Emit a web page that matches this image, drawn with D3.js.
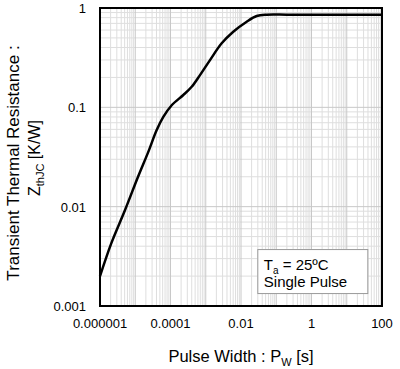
<!DOCTYPE html>
<html>
<head>
<meta charset="utf-8">
<script src="https://cdn.jsdelivr.net/npm/d3@7"></script>
<style>
  body { margin: 0; background: #fff; }
  svg { display: block; font-family: "Liberation Sans", Arial, sans-serif; }
</style>
</head>
<body>
<svg id="chart" width="400" height="369"></svg>
<script>
// pulse width [s] and Zth(j-c) [K/W]
const pulseWidth = [1e-6, 2.1e-6, 5.1e-6, 1.2e-5, 2.3e-5, 4.06e-5, 6.25e-5, 1.08e-4, 2.31e-4, 3.99e-4, 6.87e-4, 1.32e-3, 2.83e-3, 6.03e-3, 1.45e-2, 2.79e-2, 5.37e-2, 0.2, 1, 10, 100];
const zth = [0.002, 0.0043, 0.0092, 0.020, 0.035, 0.059, 0.080, 0.105, 0.133, 0.161, 0.211, 0.299, 0.441, 0.577, 0.728, 0.830, 0.857, 0.857, 0.857, 0.857, 0.857];

const xTicks = [1e-6, 1e-4, 1e-2, 1, 100];
const xTickLabels = ["0.000001", "0.0001", "0.01", "1", "100"];
const yTicks = [0.001, 0.01, 0.1, 1];
const yTickLabels = ["0.001", "0.01", "0.1", "1"];

const margin = { top: 8, right: 18, bottom: 63, left: 100 };
const width = 400 - margin.left - margin.right;
const height = 369 - margin.top - margin.bottom;

const svg = d3.select("#chart");
const g = svg.append("g").attr("transform", `translate(${margin.left},${margin.top})`);

const x = d3.scaleLog().domain([1e-6, 100]).range([0, width]);
const y = d3.scaleLog().domain([0.001, 1]).range([height, 0]);

// minor grid: 2..9 of every decade
let xMinor = [], yMinor = [];
for (let e = -6; e < 2; e++) for (let m = 2; m <= 9; m++) xMinor.push(m * Math.pow(10, e));
for (let e = -3; e < 0; e++) for (let m = 2; m <= 9; m++) yMinor.push(m * Math.pow(10, e));
let xMajor = d3.range(-6, 3).map(e => Math.pow(10, e));
let yMajor = d3.range(-3, 1).map(e => Math.pow(10, e));

g.append("g").selectAll("line").data(xMinor).join("line")
    .attr("x1", d => x(d)).attr("x2", d => x(d))
    .attr("y1", 0).attr("y2", height)
    .attr("stroke", "#dedede").attr("stroke-width", 1);
g.append("g").selectAll("line").data(yMinor).join("line")
    .attr("y1", d => y(d)).attr("y2", d => y(d))
    .attr("x1", 0).attr("x2", width)
    .attr("stroke", "#dedede").attr("stroke-width", 1);
g.append("g").selectAll("line").data(xMajor).join("line")
    .attr("x1", d => x(d)).attr("x2", d => x(d))
    .attr("y1", 0).attr("y2", height)
    .attr("stroke", "#c8c8c8").attr("stroke-width", 1);
g.append("g").selectAll("line").data(yMajor).join("line")
    .attr("y1", d => y(d)).attr("y2", d => y(d))
    .attr("x1", 0).attr("x2", width)
    .attr("stroke", "#c8c8c8").attr("stroke-width", 1);

// curve
const pts = pulseWidth.map((p, i) => [p, zth[i]]);
const line = d3.line()
    .x(d => x(d[0]))
    .y(d => y(d[1]))
    .curve(d3.curveCatmullRom.alpha(0.5));
g.append("path")
    .datum(pts)
    .attr("d", line)
    .attr("fill", "none")
    .attr("stroke", "#000")
    .attr("stroke-width", 2.5);

// frame
g.append("rect")
    .attr("width", width).attr("height", height)
    .attr("fill", "none").attr("stroke", "#000").attr("stroke-width", 2);

// tick labels
g.append("g").selectAll("text").data(xTicks).join("text")
    .attr("x", d => x(d)).attr("y", height + 22)
    .attr("text-anchor", "middle")
    .attr("font-size", 13)
    .text((d, i) => xTickLabels[i]);
g.append("g").selectAll("text").data(yTicks).join("text")
    .attr("x", -14).attr("y", d => y(d) + 5)
    .attr("text-anchor", "end")
    .attr("font-size", 13)
    .text((d, i) => yTickLabels[i]);

// legend box
const lg = g.append("g").attr("transform", `translate(${x(0.03)},${y(0.0037)})`);
lg.append("rect")
    .attr("width", 110).attr("height", 44)
    .attr("fill", "#fff").attr("stroke", "#999").attr("stroke-width", 1);
const t1 = lg.append("text").attr("x", 6).attr("y", 20).attr("font-size", 15);
t1.append("tspan").text("T");
t1.append("tspan").attr("font-size", 10).attr("dy", 4).text("a");
t1.append("tspan").attr("dy", -4).text(" = 25ºC");
lg.append("text").attr("x", 6).attr("y", 37).attr("font-size", 15).text("Single Pulse");

// axis titles
const xt = svg.append("text")
    .attr("x", 241).attr("y", 362)
    .attr("text-anchor", "middle")
    .attr("font-size", 16.5);
xt.append("tspan").text("Pulse Width : P");
xt.append("tspan").attr("font-size", 11).attr("dy", 4).text("W");
xt.append("tspan").attr("dy", -4).text(" [s]");

svg.append("text")
    .attr("transform", "translate(19,163) rotate(-90)")
    .attr("text-anchor", "middle")
    .attr("font-size", 17)
    .text("Transient Thermal Resistance :");
const yt2 = svg.append("text")
    .attr("transform", "translate(40,158) rotate(-90)")
    .attr("text-anchor", "middle")
    .attr("font-size", 16);
yt2.append("tspan").text("Z");
yt2.append("tspan").attr("font-size", 11).attr("dy", 4).text("thJC");
yt2.append("tspan").attr("dy", -4).text(" [K/W]");
</script>
</body>
</html>
